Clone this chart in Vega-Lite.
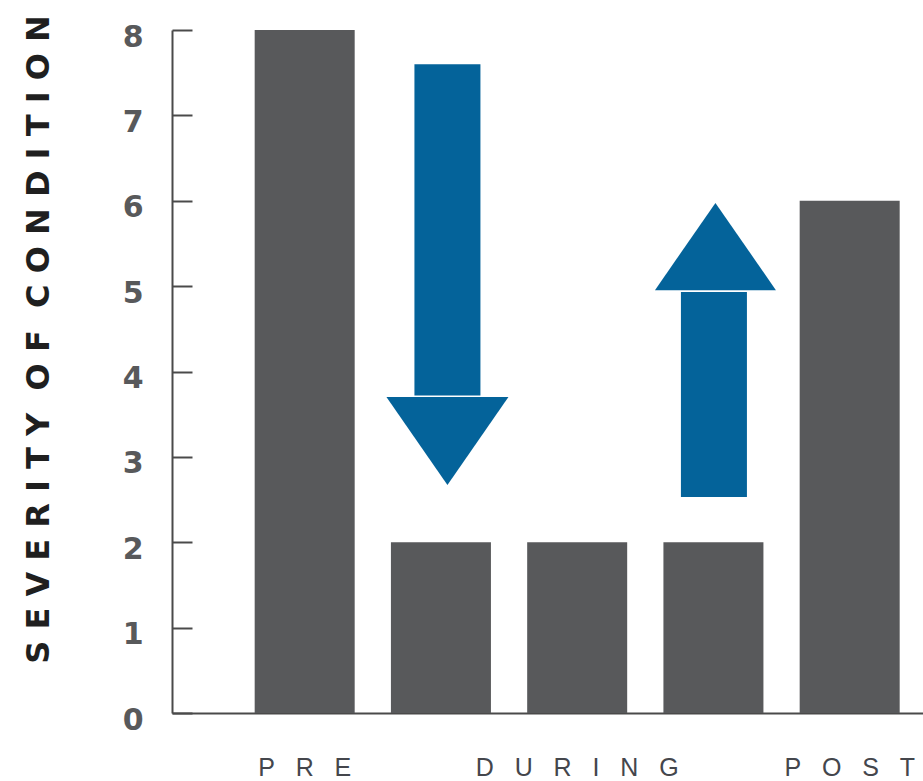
{
  "$schema": "https://vega.github.io/schema/vega-lite/v6.json",
  "width": 751,
  "height": 683,
  "autosize": {"type": "none"},
  "padding": {"left": 172, "top": 30, "right": 0, "bottom": 68},
  "background": "white",
  "config": {"view": {"stroke": null}},
  "datasets": {
    "bars": [
      {"phase": "PRE", "severity": 8},
      {"phase": "DURING (early)", "severity": 2},
      {"phase": "DURING", "severity": 2},
      {"phase": "DURING (late)", "severity": 2},
      {"phase": "POST", "severity": 6}
    ],
    "arrows": [
      {"phase": "DURING (early)", "dir": "down", "from": 7.6, "to": 3.72, "head": 3.186},
      {"phase": "DURING (late)", "dir": "up", "from": 2.53, "to": 4.93, "head": 5.464}
    ]
  },
  "encoding": {
    "x": {
      "field": "phase",
      "type": "nominal",
      "scale": {
        "domain": ["PRE", "DURING (early)", "DURING", "DURING (late)", "POST"],
        "paddingInner": 0.266,
        "paddingOuter": 0.389,
        "align": 0.78
      },
      "axis": {
        "title": null,
        "ticks": false,
        "domain": true,
        "domainColor": "#4a4a4a",
        "domainWidth": 2,
        "labelAngle": 0,
        "labelPadding": 42,
        "labelFont": "Liberation Sans",
        "labelFontSize": 25,
        "labelColor": "#44464c",
        "labelOverlap": false,
        "labelBound": false,
        "labelLimit": 500,
        "labelExpr": "indexof(datum.value, '(') >= 0 ? '' : join(split(datum.value, ''), '\u00a0\u00a0\u00a0')"
      }
    }
  },
  "layer": [
    {
      "data": {"name": "bars"},
      "mark": {"type": "bar", "color": "#58595b"},
      "encoding": {
        "y": {
          "field": "severity",
          "type": "quantitative",
          "scale": {"domain": [0, 8], "nice": false},
          "axis": {
            "values": [0, 1, 2, 3, 4, 5, 6, 7, 8],
            "format": "d",
            "grid": false,
            "domainColor": "#4a4a4a",
            "domainWidth": 2,
            "tickColor": "#4a4a4a",
            "tickWidth": 2,
            "tickSize": -20,
            "labelPadding": 49,
            "labelOffset": 7,
            "labelFlush": false,
            "labelOverlap": false,
            "labelFont": "DejaVu Sans",
            "labelFontSize": 30,
            "labelFontWeight": "bold",
            "labelColor": "#58595b",
            "title": "S\u00a0E\u00a0V\u00a0E\u00a0R\u00a0I\u00a0T\u00a0Y\u00a0\u00a0O\u00a0F\u00a0\u00a0C\u00a0O\u00a0N\u00a0D\u00a0I\u00a0T\u00a0I\u00a0O\u00a0N",
            "titleFont": "DejaVu Sans",
            "titleFontSize": 32,
            "titleFontWeight": "bold",
            "titleColor": "#1f1f1f",
            "titleAngle": -90,
            "titleAlign": "center",
            "titleBaseline": "middle",
            "titleX": -134,
            "titleY": 309
          }
        }
      }
    },
    {
      "data": {"name": "arrows"},
      "transform": [{"filter": "datum.dir === 'down'"}],
      "mark": {"type": "bar", "color": "#04639a", "width": 66, "xOffset": 6.5},
      "encoding": {
        "y": {"field": "from", "type": "quantitative"},
        "y2": {"field": "to"}
      }
    },
    {
      "data": {"name": "arrows"},
      "transform": [{"filter": "datum.dir === 'down'"}],
      "mark": {"type": "point", "filled": true, "opacity": 1, "color": "#04639a", "size": 14884, "strokeWidth": 0, "xOffset": 6.5, "shape": "M-1,-0.721L1,-0.721L0,0.721Z"},
      "encoding": {
        "y": {"field": "head", "type": "quantitative"}
      }
    },
    {
      "data": {"name": "arrows"},
      "transform": [{"filter": "datum.dir === 'up'"}],
      "mark": {"type": "bar", "color": "#04639a", "width": 66, "xOffset": 0.5},
      "encoding": {
        "y": {"field": "from", "type": "quantitative"},
        "y2": {"field": "to"}
      }
    },
    {
      "data": {"name": "arrows"},
      "transform": [{"filter": "datum.dir === 'up'"}],
      "mark": {"type": "point", "filled": true, "opacity": 1, "color": "#04639a", "size": 14641, "strokeWidth": 0, "xOffset": 2, "shape": "M-1,0.721L1,0.721L0,-0.721Z"},
      "encoding": {
        "y": {"field": "head", "type": "quantitative"}
      }
    }
  ]
}
